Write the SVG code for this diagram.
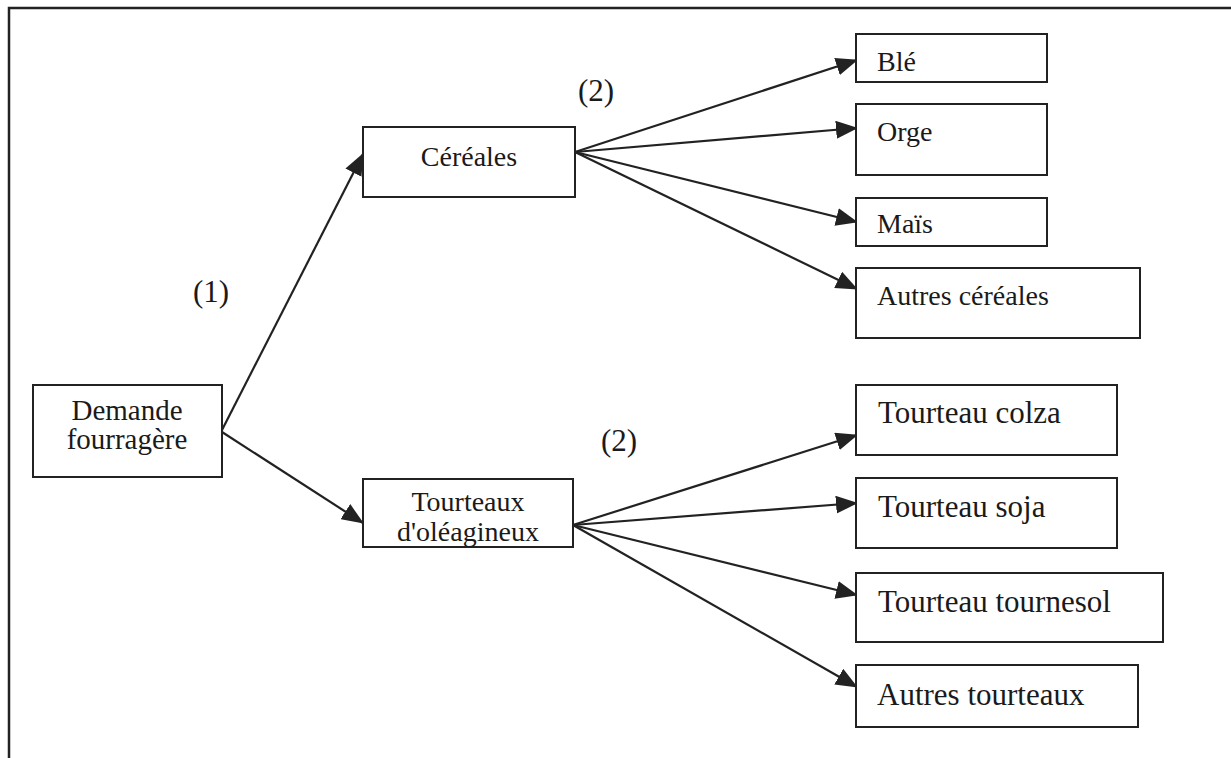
<svg xmlns="http://www.w3.org/2000/svg" width="1231" height="758" viewBox="0 0 1231 758">
<defs>
<marker id="arr" markerUnits="userSpaceOnUse" markerWidth="22" markerHeight="18" viewBox="0 0 22 18" refX="21" refY="9" orient="auto">
<path d="M0,0 L22,9 L0,18 Z" fill="#222"/>
</marker>
<style>
.box{fill:#fff;stroke:#222;stroke-width:2}
.t{font-family:"Liberation Serif","Times New Roman",serif;font-size:28px;fill:#1a1a1a}
.c{text-anchor:middle}
.big{font-size:31px}
.ln{stroke:#222;stroke-width:2.2;fill:none;marker-end:url(#arr)}
.frame{stroke:#222;stroke-width:2.5;fill:none}
</style>
</defs>
<rect width="1231" height="758" fill="#fff"/>
<path class="frame" d="M9,758 L9,8 L1231,8"/>
<g id="connectors">
<line class="ln" x1="222" y1="430" x2="363" y2="154"/>
<line class="ln" x1="222" y1="432" x2="363" y2="523"/>
<line class="ln" x1="575" y1="152" x2="857" y2="60"/>
<line class="ln" x1="575" y1="152" x2="857" y2="128"/>
<line class="ln" x1="575" y1="152" x2="857" y2="222"/>
<line class="ln" x1="575" y1="152" x2="857" y2="289"/>
<line class="ln" x1="573" y1="525" x2="857" y2="435"/>
<line class="ln" x1="573" y1="525" x2="857" y2="503"/>
<line class="ln" x1="573" y1="525" x2="857" y2="595"/>
<line class="ln" x1="573" y1="525" x2="857" y2="687"/>
</g>
<g id="labels">
<text class="t big" x="193" y="302">(1)</text>
<text class="t big" x="578" y="101">(2)</text>
<text class="t big" x="601" y="451">(2)</text>
</g>
<g id="demande">
<rect class="box" x="33" y="385" width="189" height="92"/>
<text class="t c" x="127" y="420" style="font-size:29px">Demande</text>
<text class="t c" x="127" y="449" style="font-size:29px">fourragère</text>
</g>
<g id="cereales">
<rect class="box" x="363" y="127" width="212" height="70"/>
<text class="t c" x="469" y="166">Céréales</text>
</g>
<g id="tourteaux">
<rect class="box" x="363" y="479" width="210" height="68"/>
<text class="t c" x="468" y="511">Tourteaux</text>
<text class="t c" x="468" y="541">d'oléagineux</text>
</g>
<g id="ble">
<rect class="box" x="856" y="34" width="191" height="48"/>
<text class="t" x="877" y="71">Blé</text>
</g>
<g id="orge">
<rect class="box" x="856" y="104" width="191" height="71"/>
<text class="t" x="877" y="141">Orge</text>
</g>
<g id="mais">
<rect class="box" x="856" y="198" width="191" height="48"/>
<text class="t" x="877" y="233">Maïs</text>
</g>
<g id="autres-cereales">
<rect class="box" x="856" y="268" width="284" height="70"/>
<text class="t" x="877" y="305">Autres céréales</text>
</g>
<g id="colza">
<rect class="box" x="856" y="385" width="261" height="70"/>
<text class="t big" x="878" y="423">Tourteau colza</text>
</g>
<g id="soja">
<rect class="box" x="856" y="478" width="261" height="70"/>
<text class="t big" x="878" y="517">Tourteau soja</text>
</g>
<g id="tournesol">
<rect class="box" x="856" y="573" width="307" height="69"/>
<text class="t big" x="878" y="612">Tourteau tournesol</text>
</g>
<g id="autres-tourteaux">
<rect class="box" x="856" y="665" width="282" height="62"/>
<text class="t big" x="877" y="705">Autres tourteaux</text>
</g>
</svg>
